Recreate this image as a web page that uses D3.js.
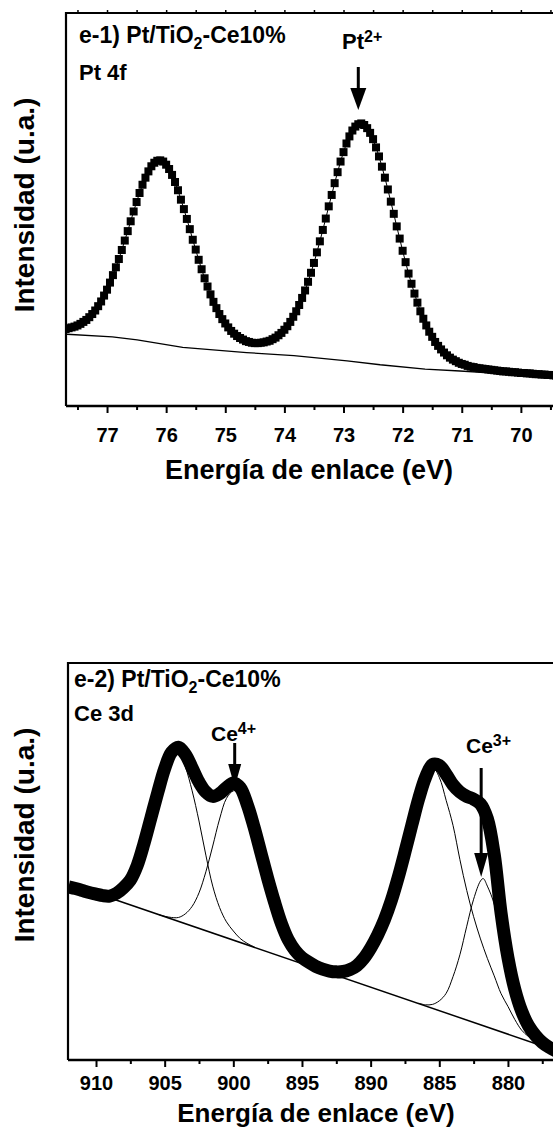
<!DOCTYPE html>
<html>
<head>
<meta charset="utf-8">
<script src="https://cdn.jsdelivr.net/npm/d3@7"></script>
<style>
  body { margin: 0; background: #fff; }
  svg { display: block; }
</style>
</head>
<body>
<svg id="fig" width="553" height="1129"></svg>
<script>
// ===== Pt 4f spectrum (binding energy grid, eV) =====
const ptStart = 77.70, ptStep = 0.05;
const ptIntensity = [
  19.6, 19.8, 20.0, 20.2, 20.5, 20.9, 21.4, 21.9, 22.6, 23.4,
  24.3, 25.4, 26.6, 28.1, 29.6, 31.4, 33.3, 35.3, 37.4, 39.7,
  42.1, 44.5, 47.0, 49.5, 51.9, 54.2, 56.3, 58.1, 59.7, 61.0,
  61.9, 62.4, 62.5, 62.2, 61.4, 60.3, 58.8, 57.0, 54.9, 52.5,
  50.1, 47.6, 45.0, 42.3, 39.8, 37.2, 34.8, 32.5, 30.4, 28.4,
  26.5, 24.9, 23.4, 22.1, 21.0, 20.0, 19.1, 18.4, 17.8, 17.3,
  16.9, 16.5, 16.3, 16.1, 16.0, 16.0, 16.1, 16.2, 16.4, 16.6,
  17.0, 17.4, 18.0, 18.6, 19.4, 20.3, 21.4, 22.7, 24.1, 25.7,
  27.5, 29.4, 31.6, 33.9, 36.4, 39.1, 41.9, 44.8, 47.7, 50.8,
  53.7, 56.7, 59.5, 62.2, 64.6, 66.8, 68.6, 70.1, 71.1, 71.7,
  71.9, 71.5, 70.7, 69.5, 67.9, 65.8, 63.5, 60.9, 58.1, 55.1,
  52.0, 48.9, 45.7, 42.6, 39.5, 36.6, 33.7, 31.1, 28.6, 26.3,
  24.1, 22.2, 20.5, 18.9, 17.6, 16.3, 15.3, 14.4, 13.6, 12.9,
  12.3, 11.8, 11.4, 11.0, 10.7, 10.5, 10.2, 10.0, 9.9, 9.7,
  9.6, 9.5, 9.4, 9.3, 9.2, 9.1, 9.0, 8.9, 8.8, 8.8,
  8.7, 8.6, 8.6, 8.5, 8.4, 8.4, 8.3, 8.3, 8.2, 8.1,
  8.1, 8.0, 8.0, 7.9, 7.9, 7.8, 7.7, 7.7, 7.6
];
// Shirley-type background under the Pt 4f doublet
const ptBgEnergy    = [77.72, 76.91, 76.49, 75.72, 74.64, 73.84, 72.94, 72.38, 71.62, 71.03, 68.90];
const ptBgIntensity = [18.3, 17.6, 16.8, 14.9, 13.6, 12.8, 11.5, 10.5, 9.4, 8.9, 6.9];
const ptTicks = [77, 76, 75, 74, 73, 72, 71, 70];
const ptMinorTicks = [77.5, 76.5, 75.5, 74.5, 73.5, 72.5, 71.5, 70.5, 69.5];

// ===== Ce 3d spectrum =====
const ceStart = 912.0, ceStep = 0.5;
const ceIntensity = [
  43.6, 43.2, 42.7, 42.2, 41.8, 41.4, 41.3, 42.0, 43.4, 45.3,
  49.0, 54.6, 61.0, 67.4, 73.4, 77.5, 78.8, 77.0, 73.6, 70.0,
  67.5, 66.4, 67.1, 68.6, 69.8, 68.6, 64.5, 58.8, 52.3, 45.8,
  39.8, 34.4, 30.3, 27.6, 25.8, 24.6, 23.6, 22.9, 22.4, 22.2,
  22.3, 22.8, 23.8, 25.6, 28.2, 31.4, 35.3, 40.1, 45.9, 52.4,
  59.2, 65.8, 71.2, 74.4, 74.2, 72.0, 69.3, 67.5, 66.4, 65.7,
  64.5, 60.8, 51.8, 37.0, 25.8, 17.8, 12.3, 8.6, 6.2, 4.4,
  3.2, 2.3
];
// linear background
const ceBgEnergy    = [909.5, 876.5];
const ceBgIntensity = [41.45, 2.36];
// fitted components (background included)
const ceComp1Energy = [909.5, 909.0, 908.5, 908.0, 907.5, 907.0, 906.5, 906.0, 905.5, 905.0, 904.5, 904.0,
                       903.5, 903.0, 902.5, 902.0, 901.5, 901.0, 900.5, 900.0, 899.5, 899.0, 898.5];
const ceComp1Intensity = [41.8, 41.7, 42.0, 43.3, 45.6, 49.1, 54.3, 60.3, 66.4, 72.0, 76.1, 77.8,
                          73.9, 67.8, 60.2, 51.6, 43.8, 38.4, 34.8, 32.5, 30.6, 29.4, 28.5];
const ceComp2Energy = [905.5, 905.0, 904.5, 904.0, 903.5, 903.0, 902.5, 902.0, 901.5, 901.0, 900.5, 900.0, 899.5,
                       899.0, 898.5, 898.0, 897.5, 897.0, 896.5, 896.0, 895.5, 895.0, 894.5, 894.0, 893.5, 893.0];
const ceComp2Intensity = [36.7, 36.2, 35.9, 35.9, 36.8, 38.7, 42.1, 47.4, 53.9, 60.7, 65.9, 67.8, 67.5,
                          64.1, 58.7, 52.3, 45.9, 39.8, 34.4, 30.3, 27.6, 25.8, 24.6, 23.6, 22.8, 22.1];
const ceComp3Energy = [893.0, 892.5, 892.0, 891.5, 891.0, 890.5, 890.0, 889.5, 889.0, 888.5, 888.0, 887.5,
                       887.0, 886.5, 886.0, 885.5, 885.0, 884.5, 884.0, 883.5, 883.0, 882.5, 882.0, 881.5,
                       881.0, 880.5, 880.0, 879.5, 879.0, 878.5, 878.0, 877.5, 877.0, 876.5];
const ceComp3Intensity = [22.1, 21.7, 21.5, 21.6, 22.4, 24.3, 27.6, 31.4, 35.3, 40.1, 45.9, 52.4,
                          59.2, 65.7, 70.9, 73.9, 71.2, 65.4, 59.1, 50.5, 42.7, 36.1, 30.5, 25.6,
                          21.2, 16.7, 13.5, 10.2, 7.5, 5.9, 4.7, 3.9, 3.1, 2.4];
const ceComp4Energy = [886.5, 886.0, 885.5, 885.0, 884.5, 884.0, 883.5, 883.0, 882.5, 882.0, 881.8,
                       881.5, 881.0, 880.5, 880.0, 879.5, 879.0, 878.5, 878.0, 877.5, 877.0, 876.5];
const ceComp4Intensity = [14.3, 13.9, 14.0, 14.9, 16.8, 21.0, 26.5, 33.7, 40.5, 45.1, 45.7,
                          43.8, 39.2, 28.5, 21.3, 15.2, 10.3, 7.5, 5.4, 4.2, 3.3, 2.5];
const ceTicks = [910, 905, 900, 895, 890, 885, 880];
const ceMinorTicks = [907.5, 902.5, 897.5, 892.5, 887.5, 882.5, 877.5];

// ===== drawing =====
const FONT = 'Arial, "Liberation Sans", Helvetica, sans-serif';
const svg = d3.select("#fig");

const zip = (xs, ys) => xs.map((x, i) => ({ e: x, v: ys[i] }));
const grid = (start, step, values) =>
  values.map((v, i) => ({ e: +(start - i * step).toFixed(3), v }));

function boldText(g, x, y, size, parts, anchor) {
  const t = g.append("text")
    .attr("x", x).attr("y", y)
    .attr("font-family", FONT).attr("font-weight", "bold")
    .attr("font-size", size).attr("fill", "#000")
    .attr("text-anchor", anchor || "start");
  let shift = 0;
  parts.forEach(p => {
    const ts = t.append("tspan").text(p.t);
    const s = p.s || 0;
    if (s !== shift) ts.attr("dy", s - shift);
    shift = s;
    if (p.size) ts.attr("font-size", p.size);
  });
  return t;
}

function arrow(g, x, yTop, yTip, headLen, headW) {
  g.append("line").attr("x1", x).attr("x2", x)
    .attr("y1", yTop).attr("y2", yTip - headLen + 1)
    .attr("stroke", "#000").attr("stroke-width", 3);
  g.append("path")
    .attr("d", `M${x - headW / 2},${yTip - headLen} L${x + headW / 2},${yTip - headLen} L${x},${yTip} Z`)
    .attr("fill", "#000");
}

function frameAndAxes(cfg) {
  const { x, left, top, bottom, ticks, minor, id, topTicks, tickFont } = cfg;
  const g = svg.append("g");
  // frame (right side lies outside the visible area)
  g.append("path")
    .attr("d", `M${left},${bottom} L${left},${top} L${left + 700},${top}`)
    .attr("fill", "none").attr("stroke", "#000").attr("stroke-width", 2.2);
  g.append("line").attr("x1", left).attr("x2", left + 700)
    .attr("y1", bottom).attr("y2", bottom)
    .attr("stroke", "#000").attr("stroke-width", 2.4);

  const major = g.append("g").attr("transform", `translate(0,${bottom})`)
    .call(d3.axisBottom(x).tickValues(ticks).tickSize(7).tickPadding(cfg.pad)
      .tickFormat(d3.format("d")).tickSizeOuter(0));
  major.select(".domain").remove();
  major.selectAll("line").attr("stroke-width", 2);
  major.selectAll("text").attr("font-family", FONT).attr("font-weight", "bold")
    .attr("font-size", tickFont).attr("fill", "#000");

  const mn = g.append("g").attr("transform", `translate(0,${bottom})`)
    .call(d3.axisBottom(x).tickValues(minor).tickSize(4).tickFormat(() => "").tickSizeOuter(0));
  mn.select(".domain").remove();
  mn.selectAll("line").attr("stroke-width", 2);

  if (topTicks) {
    const tp = g.append("g").attr("transform", `translate(0,${top})`)
      .call(d3.axisTop(x).tickValues(ticks.concat(minor)).tickSize(3).tickFormat(() => "").tickSizeOuter(0));
    tp.select(".domain").remove();
    tp.selectAll("line").attr("stroke-width", 1.5);
  }

  svg.append("clipPath").attr("id", id)
    .append("rect").attr("x", left + 1).attr("y", top + 1)
    .attr("width", 700).attr("height", bottom - top - 2);
  return svg.append("g").attr("clip-path", `url(#${id})`);
}

// ---------- panel e-1: Pt 4f ----------
{
  const left = 66, top = 13, bottom = 406;
  const x = d3.scaleLinear().domain([77.694, 69.0]).range([left, 580]);
  const y = d3.scaleLinear().domain([0, 100]).range([bottom, top]);
  const plot = frameAndAxes({ x, left, top, bottom, ticks: ptTicks, minor: ptMinorTicks,
                              id: "clipPt", pad: 15, topTicks: true, tickFont: 20 });

  const line = d3.line().x(d => x(d.e)).y(d => y(d.v));
  plot.append("path").datum(zip(ptBgEnergy, ptBgIntensity)).attr("d", line)
    .attr("fill", "none").attr("stroke", "#000").attr("stroke-width", 1.3);

  const pts = grid(ptStart, ptStep, ptIntensity);
  plot.append("path").datum(pts).attr("d", line)
    .attr("fill", "none").attr("stroke", "#000").attr("stroke-width", 1);
  const s = 8;
  plot.selectAll("rect.pt").data(pts).join("rect").attr("class", "pt")
    .attr("x", d => x(d.e) - s / 2).attr("y", d => y(d.v) - s / 2)
    .attr("width", s).attr("height", s).attr("fill", "#000");

  const ann = svg.append("g");
  boldText(ann, 79, 43, 23, [
    { t: "e-1) Pt/TiO" }, { t: "2", s: 6, size: 16 }, { t: "-Ce10%", s: 0 }
  ]);
  boldText(ann, 79, 80, 22, [{ t: "Pt 4f" }]);
  boldText(ann, 342, 49, 22, [{ t: "Pt" }, { t: "2+", s: -7, size: 16 }]);
  arrow(ann, x(72.75), 67, 110, 22, 16);

  boldText(ann, 34, 205, 28, [{ t: "Intensidad (u.a.)" }], "middle")
    .attr("transform", "rotate(-90,34,205)");
  boldText(ann, 309, 479, 27, [{ t: "Energía de enlace (eV)" }], "middle");
}

// ---------- panel e-2: Ce 3d ----------
{
  const left = 68, top = 663, bottom = 1060;
  const x = d3.scaleLinear().domain([912.04, 875.0]).range([left, 576.6]);
  const y = d3.scaleLinear().domain([0, 100]).range([bottom, top]);
  const plot = frameAndAxes({ x, left, top, bottom, ticks: ceTicks, minor: ceMinorTicks,
                              id: "clipCe", pad: 9, topTicks: false, tickFont: 20 });

  const line = d3.line().x(d => x(d.e)).y(d => y(d.v));
  const smooth = d3.line().x(d => x(d.e)).y(d => y(d.v)).curve(d3.curveCatmullRom.alpha(0.5));

  plot.append("path").datum(zip(ceBgEnergy, ceBgIntensity)).attr("d", line)
    .attr("fill", "none").attr("stroke", "#000").attr("stroke-width", 1.5);

  [[ceComp1Energy, ceComp1Intensity], [ceComp2Energy, ceComp2Intensity],
   [ceComp3Energy, ceComp3Intensity], [ceComp4Energy, ceComp4Intensity]].forEach(([e, v]) => {
    plot.append("path").datum(zip(e, v)).attr("d", smooth)
      .attr("fill", "none").attr("stroke", "#000").attr("stroke-width", 1);
  });

  plot.append("path").datum(grid(ceStart, ceStep, ceIntensity)).attr("d", smooth)
    .attr("fill", "none").attr("stroke", "#000").attr("stroke-width", 13)
    .attr("stroke-linejoin", "round").attr("stroke-linecap", "butt");

  const ann = svg.append("g");
  boldText(ann, 74, 687, 23, [
    { t: "e-2) Pt/TiO" }, { t: "2", s: 6, size: 16 }, { t: "-Ce10%", s: 0 }
  ]);
  boldText(ann, 74, 721, 22, [{ t: "Ce 3d" }]);
  boldText(ann, 211, 741, 21, [{ t: "Ce" }, { t: "4+", s: -7, size: 16 }]);
  arrow(ann, x(899.9), 743, 787, 23, 13);
  boldText(ann, 466, 753, 21, [{ t: "Ce" }, { t: "3+", s: -7, size: 16 }]);
  arrow(ann, x(881.95), 768, 877, 24, 14);

  boldText(ann, 34, 835, 28, [{ t: "Intensidad (u.a.)" }], "middle")
    .attr("transform", "rotate(-90,34,835)");
  boldText(ann, 316, 1122, 26, [{ t: "Energía de enlace (eV)" }], "middle");
}
</script>
</body>
</html>
